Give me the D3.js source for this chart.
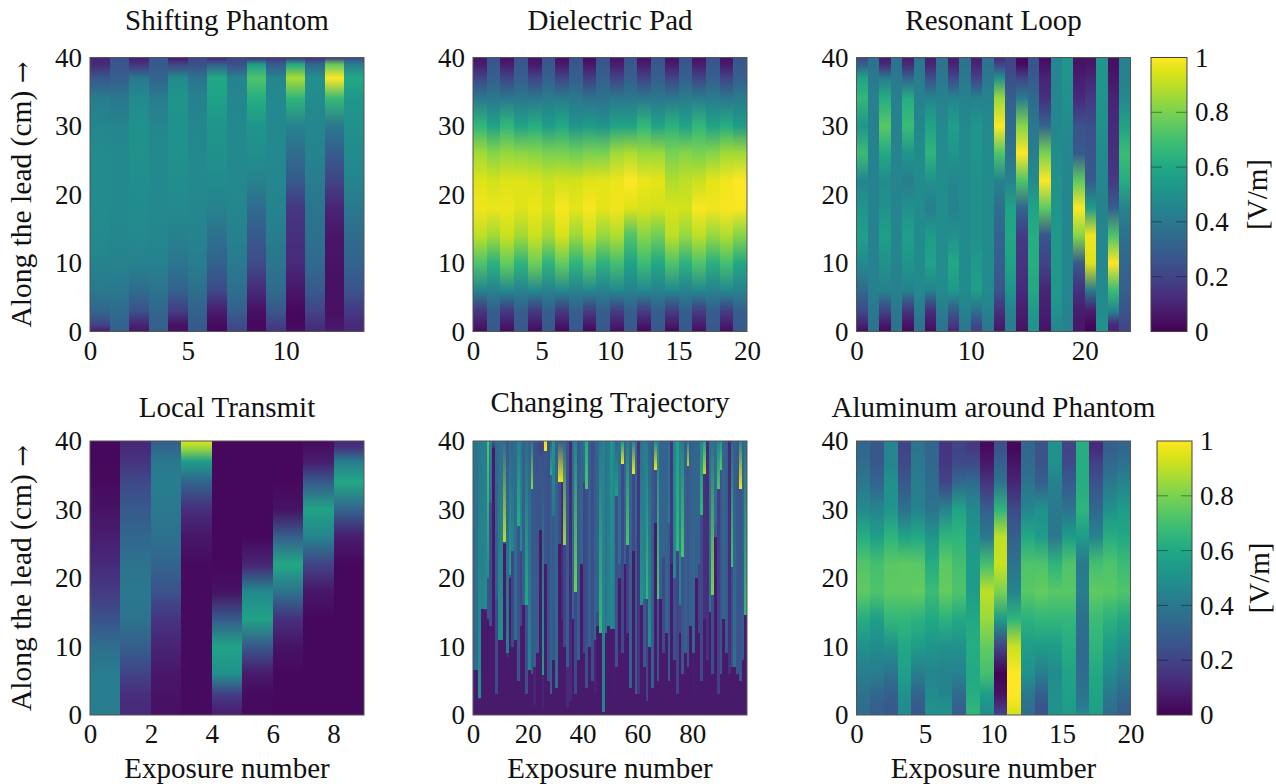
<!DOCTYPE html>
<html>
<head>
<meta charset="utf-8">
<script src="https://cdn.jsdelivr.net/npm/d3@7"></script>
<style>
  html, body { margin: 0; padding: 0; background: #fff; }
  text { font-family: "Liberation Serif", serif; fill: #111; }
</style>
</head>
<body>
<div class="chart"></div>
<script>
// depth along the lead (cm) at which every column below was read, bottom to top
var depths = [0, 1, 3, 6, 10, 14, 18, 22, 26, 30, 34, 37, 39, 40];

var phantomCols = [
  [.08,.2,.33,.4,.45,.47,.48,.48,.48,.46,.42,.27,.12,.1],
  [.3,.32,.35,.4,.44,.46,.47,.47,.47,.45,.4,.3,.26,.25],
  [.06,.1,.25,.35,.44,.47,.48,.49,.5,.5,.48,.4,.15,.08],
  [.3,.3,.33,.38,.44,.46,.47,.47,.47,.46,.42,.32,.28,.28],
  [.04,.05,.18,.31,.39,.44,.47,.49,.5,.51,.52,.48,.2,.06],
  [.28,.28,.31,.36,.42,.45,.46,.47,.47,.46,.44,.38,.24,.22],
  [.02,.03,.08,.22,.31,.37,.44,.48,.5,.52,.57,.6,.3,.1],
  [.2,.23,.3,.36,.41,.44,.46,.47,.47,.47,.46,.45,.24,.2],
  [.03,.02,.04,.12,.23,.28,.35,.44,.49,.52,.62,.72,.55,.12],
  [.15,.18,.27,.34,.39,.42,.45,.46,.47,.47,.47,.46,.28,.15],
  [.04,.02,.02,.06,.12,.14,.16,.28,.35,.44,.65,.87,.6,.15],
  [.12,.14,.2,.28,.34,.37,.39,.42,.45,.46,.48,.5,.33,.14],
  [.08,.06,.04,.04,.05,.06,.1,.2,.29,.4,.67,1,.75,.15],
  [.12,.12,.17,.26,.32,.35,.4,.45,.48,.5,.53,.6,.42,.22]
];

var padCols = [
  [.03,.07,.16,.45,.72,.9,.98,.95,.86,.66,.4,.2,.08,.05],
  [.27,.28,.3,.44,.64,.86,.97,.93,.82,.58,.4,.3,.27,.26],
  [.03,.07,.17,.47,.76,.92,.97,.95,.84,.66,.4,.2,.08,.04],
  [.27,.28,.3,.44,.65,.86,.95,.95,.83,.58,.4,.3,.27,.26],
  [.03,.07,.17,.47,.78,.92,.97,.94,.82,.62,.4,.2,.07,.05],
  [.27,.28,.3,.44,.65,.86,.94,.92,.8,.55,.42,.3,.27,.26],
  [.02,.06,.17,.47,.76,.94,.99,.93,.8,.6,.42,.2,.07,.04],
  [.27,.28,.3,.44,.65,.85,.96,.93,.78,.52,.4,.3,.27,.26],
  [.02,.06,.18,.47,.74,.92,.99,.95,.8,.55,.38,.18,.06,.03],
  [.27,.28,.3,.44,.64,.84,.96,.96,.8,.52,.38,.3,.27,.26],
  [.03,.08,.18,.47,.7,.88,.98,.97,.86,.58,.4,.2,.08,.05],
  [.27,.28,.3,.44,.58,.72,.95,1,.88,.58,.4,.3,.27,.26],
  [.02,.06,.18,.47,.68,.82,.94,.97,.85,.66,.4,.2,.08,.04],
  [.27,.28,.3,.44,.6,.78,.93,.96,.85,.58,.4,.3,.27,.26],
  [.02,.07,.18,.47,.72,.9,.94,.88,.8,.64,.4,.2,.08,.04],
  [.27,.28,.3,.44,.64,.84,.93,.9,.82,.58,.42,.3,.27,.26],
  [.03,.08,.18,.47,.72,.9,.99,.92,.8,.66,.42,.2,.08,.04],
  [.27,.28,.3,.44,.63,.84,.98,.96,.82,.58,.42,.3,.27,.26],
  [.03,.08,.18,.47,.7,.88,.99,.98,.86,.62,.4,.2,.07,.04],
  [.27,.28,.3,.44,.6,.82,.99,1,.86,.55,.42,.3,.27,.26]
];

var loopCols = [
  [.03,.1,.22,.34,.48,.56,.52,.46,.68,.52,.66,.58,.3,.2],
  [.38,.38,.4,.43,.44,.44,.44,.44,.44,.43,.43,.41,.38,.37],
  [.03,.06,.2,.44,.5,.56,.5,.48,.6,.74,.62,.42,.12,.07],
  [.38,.38,.4,.43,.45,.45,.45,.45,.45,.44,.43,.41,.38,.37],
  [.03,.05,.15,.44,.52,.56,.5,.42,.52,.68,.62,.32,.12,.08],
  [.38,.38,.42,.47,.48,.48,.48,.48,.48,.46,.44,.42,.4,.38],
  [.03,.06,.13,.44,.58,.55,.42,.5,.65,.58,.46,.24,.1,.08],
  [.38,.38,.42,.48,.49,.49,.49,.49,.49,.47,.44,.4,.38,.38],
  [.12,.16,.28,.54,.6,.5,.44,.46,.52,.56,.46,.22,.1,.08],
  [.4,.4,.44,.48,.48,.48,.48,.48,.48,.47,.44,.4,.38,.38],
  [.18,.22,.36,.56,.54,.5,.5,.5,.52,.52,.44,.2,.1,.08],
  [.4,.4,.44,.48,.48,.48,.48,.48,.48,.47,.45,.4,.38,.38],
  [.06,.08,.14,.26,.3,.32,.36,.44,.72,1,.85,.5,.2,.12],
  [.42,.42,.44,.52,.58,.6,.58,.44,.38,.34,.3,.24,.2,.2],
  [.04,.06,.08,.12,.15,.17,.32,.72,1,.82,.42,.2,.03,.02],
  [.52,.52,.54,.6,.62,.62,.58,.48,.42,.4,.34,.28,.26,.26],
  [.04,.06,.08,.1,.2,.26,.75,1,.8,.32,.14,.1,.05,.03],
  [.47,.47,.5,.54,.54,.54,.52,.5,.48,.46,.46,.46,.46,.46],
  [.44,.44,.45,.46,.46,.46,.46,.46,.46,.48,.5,.52,.52,.52],
  [.06,.06,.08,.14,.28,.82,1,.75,.28,.26,.12,.08,.05,.05],
  [.0,.02,.08,.4,.95,.98,.55,.28,.26,.24,.16,.1,.06,.05],
  [.5,.5,.48,.47,.46,.46,.44,.46,.48,.5,.52,.52,.52,.52],
  [.1,.12,.45,.68,1,.72,.3,.17,.14,.12,.1,.06,.04,.04],
  [.2,.22,.26,.3,.33,.37,.44,.62,.68,.58,.47,.44,.44,.44]
];

var transmitCols = [
  [.42,.42,.42,.42,.36,.25,.17,.12,.08,.05,.03,.02,.02,.02],
  [.12,.12,.13,.2,.3,.38,.4,.38,.33,.28,.22,.15,.12,.11],
  [.04,.04,.05,.06,.1,.15,.25,.32,.37,.4,.42,.4,.33,.3],
  [.03,.03,.03,.03,.03,.03,.03,.03,.06,.13,.32,.55,.85,.95],
  [.08,.1,.18,.5,.58,.28,.05,.02,.02,.02,.02,.02,.02,.02],
  [.03,.03,.03,.07,.27,.58,.47,.1,.02,.02,.02,.02,.02,.02],
  [.02,.02,.02,.02,.05,.14,.38,.6,.3,.05,.02,.02,.02,.02],
  [.02,.02,.02,.02,.02,.02,.06,.2,.45,.58,.28,.08,.04,.03],
  [.02,.02,.02,.02,.02,.02,.02,.02,.08,.32,.6,.42,.15,.1]
];

// Changing Trajectory: each exposure brightens going down to a sharp cut, then a dim floor, then dark
var trajCut = [6.5,6.5,2.5,15.5,15.5,20,31,39,17,11, 11,25.3,9,20.5,24,11,27.6,24,16,16,
  6.5,33,7,9,38,5.8,38.5,5,35,29, 4,34,34,24.8,7,2,14,17.9,8,22,
  34,33,10,5,11,15,12,.4,12,13, 12.5,12.5,32,22,36.7,22,24.8,22,35.2,26,
  3,16,17,17,10,4,35.7,17,22,23, 12,28,26,20,24,16,23,9,36.3,13,
  9,27,22,29.2,35.2,8,15,17.5,28,33, 35.7,14,9,6,21.6,7,6,33,24,14.6];
var trajDark = [6.5,6.5,2.3,15.5,15,14,13,39,3,11, 25,25,8.5,20,10,17,5,13,16,3,
  6.5,6,1.5,9,27,1,22,5,3,8, 4,25,14,10,1,2,20,3,8,28,
  9,4,20,5,3,13,12,.4,19,13, 12.5,2,7,20,9,22,12,4,24,3,
  3,16,7,2,10,4,28,5,17,9, 12,5,22,8,3,12,6,24,7,13,
  3,20,12,5,14,8,15,6,26,3, 6,14,20,6,7,7,22,5,8,14.6];
var trajTop = [.38,.38,.4,.42,.42,.72,.42,.3,.34,.34, .36,.34,.28,.34,.32,.35,.44,.4,.3,.34,
  .32,.38,.26,.24,.2,.22,.97,.24,.3,.52, .3,.3,.28,.32,.26,.12,.36,.44,.28,.32,
  .38,.62,.3,.24,.28,.32,.4,.44,.38,.4, .52,.46,.32,.36,.52,.32,.4,.32,.42,.36,
  .15,.36,.42,.4,.32,.28,.46,.42,.32,.32, .32,.36,.15,.46,.56,.44,.4,.3,.42,.3,
  .32,.32,.32,.46,.56,.12,.36,.36,.36,.44, .52,.32,.3,.12,.32,.3,.28,.44,.32,.36];
var trajPeak = [.34,.34,.5,.45,.48,.48,.34,.14,.28,.5, .5,.88,.42,.55,.45,.35,.62,.48,.3,.6,
  .45,.82,.3,.3,.2,.56,.97,.25,.62,.38, .35,.97,.97,.84,.3,.12,.32,.78,.3,.32,
  .32,.72,.3,.24,.32,.32,.66,.45,.37,.44, .46,.42,.56,.36,.97,.32,.72,.32,.98,.32,
  .15,.52,.46,.66,.5,.3,.98,.72,.32,.32, .32,.42,.15,.46,.66,.44,.72,.3,.88,.3,
  .32,.32,.32,.66,.88,.14,.36,.8,.36,.72, .74,.32,.28,.14,.7,.36,.26,.98,.32,.66];
var trajLow = [.08,.08,.1,.1,.1,.26,.24,.08,.22,.1, .1,.2,.12,.24,.22,.08,.26,.2,.12,.24,
  .14,.28,.1,.12,.26,.1,.26,.08,.3,.28, .12,.24,.12,.2,.12,.14,.26,.22,.2,.3,
  .2,.24,.16,.12,.1,.24,.08,.1,.12,.08, .08,.08,.24,.26,.22,.2,.18,.3,.22,.28,
  .1,.08,.26,.2,.1,.14,.24,.26,.3,.22, .08,.28,.14,.24,.2,.2,.26,.12,.26,.14,
  .08,.3,.2,.22,.14,.08,.1,.24,.3,.18, .26,.08,.1,.1,.24,.1,.12,.26,.28,.08];
var trajFloor = .07;

var aluminumCols = [
  [.35,.35,.37,.42,.5,.62,.75,.73,.62,.48,.4,.35,.33,.33],
  [.3,.3,.33,.42,.48,.56,.72,.7,.56,.45,.32,.27,.27,.27],
  [.28,.28,.3,.38,.5,.66,.75,.74,.65,.52,.5,.45,.45,.45],
  [.48,.48,.5,.56,.6,.66,.75,.75,.58,.37,.27,.22,.2,.2],
  [.28,.28,.32,.42,.55,.64,.76,.74,.6,.44,.42,.4,.38,.38],
  [.5,.5,.48,.45,.52,.6,.68,.62,.52,.38,.35,.33,.33,.33],
  [.5,.5,.45,.44,.5,.64,.76,.75,.65,.45,.2,.16,.15,.15],
  [.3,.3,.34,.44,.5,.6,.72,.7,.65,.58,.33,.22,.2,.2],
  [.65,.65,.62,.6,.62,.6,.55,.55,.52,.48,.35,.22,.17,.17],
  [.48,.5,.55,.7,.76,.85,.9,.7,.4,.3,.15,.06,.03,.03],
  [.2,.15,.05,.0,.2,.55,.8,.92,.9,.65,.38,.3,.25,.23],
  [.92,.96,1,1,.92,.65,.45,.38,.3,.22,.1,.05,.02,.02],
  [.35,.36,.4,.5,.55,.64,.74,.72,.6,.46,.38,.34,.33,.33],
  [.25,.25,.3,.42,.55,.66,.76,.72,.55,.5,.3,.25,.25,.25],
  [.5,.5,.5,.48,.55,.66,.74,.65,.4,.4,.44,.5,.5,.5],
  [.55,.55,.56,.58,.62,.66,.74,.72,.55,.38,.28,.22,.2,.2],
  [.5,.42,.38,.35,.34,.36,.42,.4,.55,.65,.62,.62,.62,.62],
  [.55,.56,.58,.6,.65,.68,.75,.7,.45,.33,.25,.18,.12,.12],
  [.35,.36,.4,.48,.55,.64,.74,.72,.62,.5,.4,.33,.3,.3],
  [.3,.3,.34,.42,.5,.6,.72,.68,.6,.55,.45,.36,.33,.33]
];

var xTickVals = [[0,5,10],[0,5,10,15,20],[0,10,20],[0,2,4,6,8],[0,20,40,60,80],[0,5,10,15,20]];
var yTickVals = [0,10,20,30,40];
var barTicks = [0,.2,.4,.6,.8,1];
var titles = ["Shifting Phantom","Dielectric Pad","Resonant Loop","Local Transmit","Changing Trajectory","Aluminum around Phantom"];

var width = 1276, height = 784;
var plotSize = 274;
var colLeft = [90, 473, 856.5], rowTop = [57.5, 441];
var titleY = [30, 417, 412, 417];
var labelFont = "29px", tickFont = "27px";

var svg = d3.select(".chart").append("svg")
  .attr("width", width)
  .attr("height", height)
  .style("display", "block");
var defs = svg.append("defs");

// the reference is a slightly soft raster, so the cells get a small blur
defs.append("filter").attr("id", "soft")
  .attr("x", "-2%").attr("y", "-2%").attr("width", "104%").attr("height", "104%")
  .attr("color-interpolation-filters", "sRGB")
  .append("feGaussianBlur").attr("stdDeviation", 0.45).attr("edgeMode", "duplicate");
defs.append("clipPath").attr("id", "plotclip").append("rect")
  .attr("width", plotSize).attr("height", plotSize);

var color = d3.scaleSequential(d3.interpolateViridis).domain([0, 1]);
var gradId = 0;

function addGradient(stops) {
  var id = "g" + (gradId++);
  var g = defs.append("linearGradient").attr("id", id)
    .attr("x1", 0).attr("x2", 0).attr("y1", 0).attr("y2", 1);
  stops.forEach(function(s) {
    g.append("stop").attr("offset", s[0]).attr("stop-color", s[1]);
  });
  return "url(#" + id + ")";
}

function drawAxes(g, x, y, i) {
  g.append("g")
    .attr("transform", "translate(0," + plotSize + ")")
    .call(d3.axisBottom(x).tickValues(xTickVals[i]).tickSize(0).tickPadding(9))
    .call(styleAxis);
  g.append("g")
    .call(d3.axisLeft(y).tickValues(yTickVals).tickSize(0).tickPadding(8))
    .call(styleAxis);
  g.append("rect")
    .attr("width", plotSize).attr("height", plotSize)
    .attr("fill", "none").attr("stroke", "#555").attr("stroke-width", 1);
}

function styleAxis(a) {
  a.select(".domain").remove();
  a.selectAll("text").style("font-size", tickFont).attr("fill", "#111")
    .style("font-family", '"Liberation Serif", serif');
}

function panel(i) {
  var left = colLeft[i % 3], top = rowTop[Math.floor(i / 3)];
  var g = svg.append("g").attr("transform", "translate(" + left + "," + top + ")");
  var domainMax = [14, 20, 24, 9, 100, 20][i];
  var x = d3.scaleLinear().domain([0, domainMax]).range([0, plotSize]);
  var y = d3.scaleLinear().domain([0, 40]).range([plotSize, 0]);
  var cells = g.append("g").attr("clip-path", "url(#plotclip)")
    .append("g").attr("filter", "url(#soft)");

  if (i === 4) {
    d3.range(trajCut.length).forEach(function(k) {
      var cut = trajCut[k], dark = Math.min(trajDark[k], cut);
      cells.append("rect").attr("x", x(k)).attr("width", x(k + 1) - x(k) + .5)
        .attr("y", y(40)).attr("height", y(cut) - y(40))
        .attr("shape-rendering", "crispEdges")
        .attr("fill", addGradient([[0, color(trajTop[k])], [1, color(trajPeak[k])]]));
      cells.append("rect").attr("x", x(k)).attr("width", x(k + 1) - x(k) + .5)
        .attr("y", y(cut)).attr("height", y(dark) - y(cut))
        .attr("shape-rendering", "crispEdges")
        .attr("fill", color(trajLow[k]));
      cells.append("rect").attr("x", x(k)).attr("width", x(k + 1) - x(k) + .5)
        .attr("y", y(dark)).attr("height", y(0) - y(dark))
        .attr("shape-rendering", "crispEdges")
        .attr("fill", color(trajFloor));
    });
  } else {
    var cols = [phantomCols, padCols, loopCols, transmitCols, null, aluminumCols][i];
    cells.selectAll(".col").data(cols).enter().append("rect")
      .attr("class", "col")
      .attr("x", function(d, k) { return x(k); })
      .attr("width", function(d, k) { return x(k + 1) - x(k) + .5; })
      .attr("y", y(40))
      .attr("height", y(0) - y(40))
      .attr("shape-rendering", "crispEdges")
      .attr("fill", function(d) {
        return addGradient(d.map(function(v, r) {
          return [(y(depths[r]) - y(40)) / plotSize, color(v)];
        }).reverse());
      });
  }

  drawAxes(g, x, y, i);

  svg.append("text")
    .attr("x", left + plotSize / 2).attr("y", i < 3 ? titleY[0] : titleY[i - 2])
    .attr("text-anchor", "middle").style("font-size", labelFont)
    .text(titles[i]);

  if (i % 3 === 0) {
    var yl = svg.append("text")
      .attr("transform", "translate(31," + (top + plotSize / 2) + ") rotate(-90)")
      .attr("text-anchor", "middle").style("font-size", "29.5px");
    yl.append("tspan").text("Along the lead (cm) ");
    yl.append("tspan").style("font-family", '"DejaVu Serif"').style("font-size", "26px").text("\u2192");
  }
  if (i >= 3) {
    svg.append("text")
      .attr("x", left + plotSize / 2).attr("y", 778)
      .attr("text-anchor", "middle").style("font-size", labelFont)
      .text("Exposure number");
  }
}

function colorbar(left, top, barW, labelX, nameX) {
  var b = svg.append("g").attr("transform", "translate(" + left + "," + top + ")");
  var s = d3.scaleLinear().domain([0, 1]).range([plotSize, 0]);
  var stops = d3.range(0, 1.001, .05).map(function(t) { return [1 - t, color(t)]; }).reverse();
  b.append("rect").attr("width", barW).attr("height", plotSize).attr("fill", addGradient(stops));
  barTicks.slice(1, -1).forEach(function(t) {
    [[0, 11], [barW - 11, barW]].forEach(function(p) {
      b.append("line").attr("x1", p[0]).attr("x2", p[1])
        .attr("y1", s(t)).attr("y2", s(t))
        .attr("stroke", "#000").attr("stroke-opacity", .4);
    });
  });
  b.append("rect").attr("width", barW).attr("height", plotSize)
    .attr("fill", "none").attr("stroke", "#444");
  barTicks.forEach(function(t) {
    b.append("text").attr("x", labelX).attr("y", s(t)).attr("dy", "0.34em")
      .style("font-size", tickFont).text(t);
  });
  b.append("text")
    .attr("transform", "translate(" + nameX + "," + (plotSize / 2) + ") rotate(-90)")
    .attr("text-anchor", "middle").style("font-size", labelFont)
    .text("[V/m]");
}

d3.range(6).forEach(panel);
colorbar(1151, 57.5, 36, 44, 116);
colorbar(1157, 441, 35, 43, 112);
</script>
</body>
</html>
